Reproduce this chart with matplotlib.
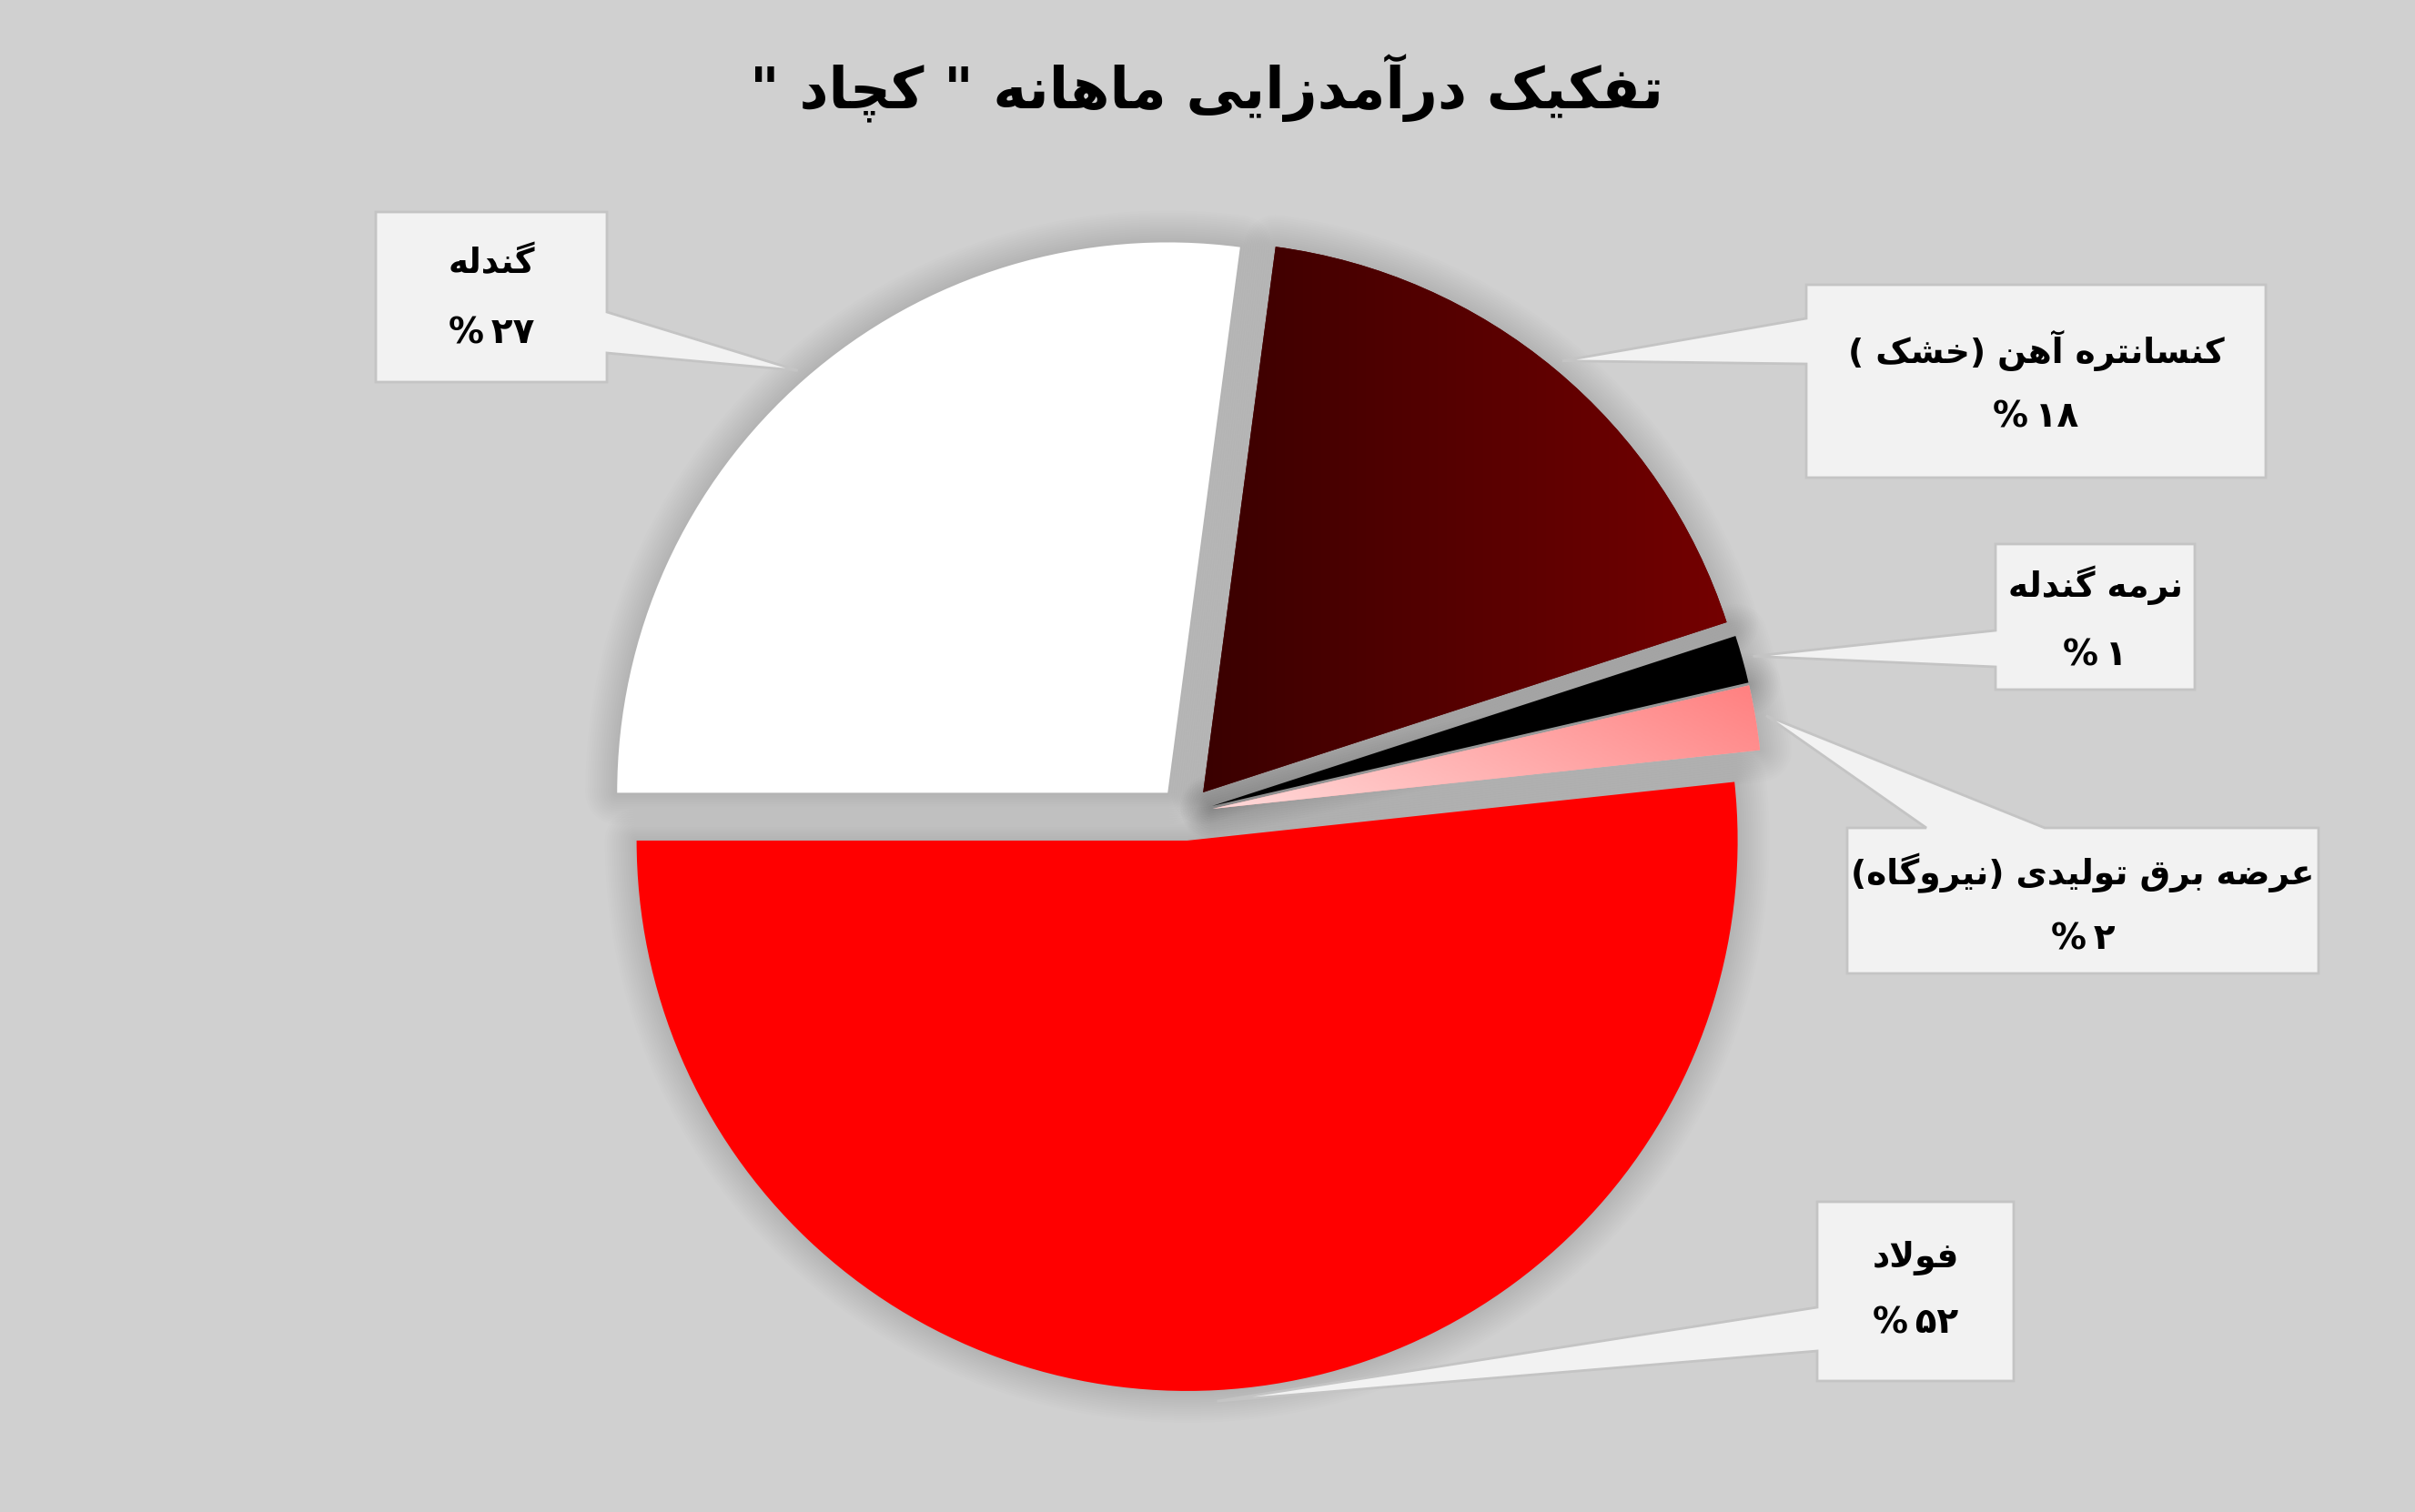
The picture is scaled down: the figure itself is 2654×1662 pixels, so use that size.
import numpy as np
import matplotlib
matplotlib.use("Agg")
import matplotlib.pyplot as plt
from matplotlib.patches import Wedge, Polygon
from matplotlib.colors import LinearSegmentedColormap

# chart data
categories = ["گندله", "کنسانتره آهن (خشک )", "نرمه گندله",
              "عرضه برق تولیدی (نیروگاه)", "فولاد"]
shares = [27.1, 17.9, 1.4, 1.9, 51.7]
pct_labels = ["%۲۷", "%۱۸", "%۱", "%۲", "%۵۲"]
colors = ["#ffffff", "#5a0000", "#000000", "#ffb0b0", "#ff0000"]
title = 'تفکیک درآمدزایی ماهانه " کچاد "'

W, H = 2654, 1662

# matplotlib does no arabic shaping / bidi, so do a small one by hand
FORMS = {
    "ا": ("\uFE8D", "\uFE8E", None, None),
    "آ": ("\uFE81", "\uFE82", None, None),
    "ب": ("\uFE8F", "\uFE90", "\uFE91", "\uFE92"),
    "پ": ("\uFB56", "\uFB57", "\uFB58", "\uFB59"),
    "ت": ("\uFE95", "\uFE96", "\uFE97", "\uFE98"),
    "ج": ("\uFE9D", "\uFE9E", "\uFE9F", "\uFEA0"),
    "چ": ("\uFB7A", "\uFB7B", "\uFB7C", "\uFB7D"),
    "خ": ("\uFEA5", "\uFEA6", "\uFEA7", "\uFEA8"),
    "د": ("\uFEA9", "\uFEAA", None, None),
    "ر": ("\uFEAD", "\uFEAE", None, None),
    "ز": ("\uFEAF", "\uFEB0", None, None),
    "س": ("\uFEB1", "\uFEB2", "\uFEB3", "\uFEB4"),
    "ش": ("\uFEB5", "\uFEB6", "\uFEB7", "\uFEB8"),
    "ض": ("\uFEBD", "\uFEBE", "\uFEBF", "\uFEC0"),
    "ع": ("\uFEC9", "\uFECA", "\uFECB", "\uFECC"),
    "ف": ("\uFED1", "\uFED2", "\uFED3", "\uFED4"),
    "ق": ("\uFED5", "\uFED6", "\uFED7", "\uFED8"),
    "ک": ("\uFB8E", "\uFB8F", "\uFB90", "\uFB91"),
    "گ": ("\uFB92", "\uFB93", "\uFB94", "\uFB95"),
    "ل": ("\uFEDD", "\uFEDE", "\uFEDF", "\uFEE0"),
    "م": ("\uFEE1", "\uFEE2", "\uFEE3", "\uFEE4"),
    "ن": ("\uFEE5", "\uFEE6", "\uFEE7", "\uFEE8"),
    "و": ("\uFEED", "\uFEEE", None, None),
    "ه": ("\uFEE9", "\uFEEA", "\uFEEB", "\uFEEC"),
    "ی": ("\uFBFC", "\uFBFD", "\uFBFE", "\uFBFF"),
}
LAM_ALEF = {"ا": ("\uFEFB", "\uFEFC"), "آ": ("\uFEF5", "\uFEF6")}


def joins_left(c):
    return c in FORMS and FORMS[c][2] is not None


def shape(text):
    out = []
    i = 0
    n = len(text)
    while i < n:
        c = text[i]
        if c not in FORMS:
            out.append(c)
            i += 1
            continue
        prev = text[i - 1] if i > 0 else ""
        nxt = text[i + 1] if i + 1 < n else ""
        jp = joins_left(prev)
        if c == "ل" and nxt in LAM_ALEF:
            out.append(LAM_ALEF[nxt][1] if jp else LAM_ALEF[nxt][0])
            i += 2
            continue
        jn = joins_left(c) and nxt in FORMS
        iso, fin, ini, med = FORMS[c]
        if jp and jn:
            out.append(med)
        elif jp:
            out.append(fin)
        elif jn:
            out.append(ini)
        else:
            out.append(iso)
        i += 1
    vis = "".join(reversed(out))
    return vis.translate(str.maketrans("()", ")("))


plt.rcParams['font.family'] = ['DejaVu Sans']

fig = plt.figure(figsize=(W / 100, H / 100), dpi=100, facecolor="#d0d0d0")
ax = fig.add_axes([0, 0, 1, 1])
ax.set_facecolor("#d0d0d0")

radius = 605
center = (1303, H - 894)
wedges, _ = ax.pie(shares, colors=colors, startangle=180, counterclock=False,
                   explode=[30] * len(shares), radius=radius, center=center,
                   wedgeprops=dict(linewidth=0), frame=True)

# soft glow under the slices
for w in wedges:
    for k in range(1, 15):
        ax.add_patch(Wedge(w.center, w.r, w.theta1, w.theta2, facecolor="none",
                           edgecolor="black", lw=3.6 * k, alpha=0.0095,
                           joinstyle="round", zorder=0.5))

# gradients on two slices
w = wedges[1]
bb = w.get_path().get_extents()
grad = np.linspace(0, 1, 256).reshape(1, -1)
cm1 = LinearSegmentedColormap.from_list("dr", ["#3a0000", "#740000"])
im = ax.imshow(grad, extent=[bb.x0, bb.x1, bb.y0, bb.y1], cmap=cm1,
               aspect="auto", origin="lower", zorder=1.5)
im.set_clip_path(w)

w = wedges[3]
bb = w.get_path().get_extents()
gx, gy = np.meshgrid(np.linspace(0, 1, 256), np.linspace(0, 1, 64))
cm2 = LinearSegmentedColormap.from_list("pk", ["#ffdada", "#ff8080"])
im = ax.imshow(0.7 * gx + 0.3 * gy, extent=[bb.x0, bb.x1, bb.y0, bb.y1],
               cmap=cm2, aspect="auto", origin="lower", zorder=1.5)
im.set_clip_path(w)

# callout boxes: (left, top, right, bottom) in pixels from top-left
boxes = [(413, 233, 667, 420), (1985, 313, 2490, 525), (2193, 598, 2412, 758),
         (2030, 910, 2548, 1070), (1997, 1321, 2213, 1518)]
pointers = [("right", 343, 388), ("left", 350, 400), ("left", 693, 733),
            ("top", 2117, 2247), ("left", 1437, 1485)]
line_y = [(290, 367), (385, 458), (643, 720), (960, 1033), (1383, 1455)]

for w, (l, t, r, b), (side, p1, p2), (y1, y2), name, pct in zip(
        wedges, boxes, pointers, line_y, categories, pct_labels):
    th = np.deg2rad((w.theta1 + w.theta2) / 2)
    tip = (w.center[0] + 1.02 * w.r * np.cos(th), w.center[1] + 1.02 * w.r * np.sin(th))
    T, B = H - t, H - b
    if side == "left":
        pts = [(l, T), (r, T), (r, B), (l, B), (l, H - p2), tip, (l, H - p1)]
    elif side == "right":
        pts = [(l, T), (r, T), (r, H - p1), tip, (r, H - p2), (r, B), (l, B)]
    else:
        pts = [(l, T), (p1, T), tip, (p2, T), (r, T), (r, B), (l, B)]
    ax.add_patch(Polygon(pts, closed=True, facecolor="#f2f2f2", edgecolor="#c4c4c4",
                         lw=2, zorder=3))
    cx = (l + r) / 2
    ax.text(cx, H - y1, shape(name), ha="center", va="center", fontsize=27,
            fontweight="bold", zorder=4)
    ax.text(cx, H - y2, pct.replace("%", "%\u2009"), ha="center", va="center",
            fontsize=28, fontweight="bold", zorder=4)

ax.text(1326, H - 118, shape(title), ha="center", va="baseline", fontsize=45,
        fontweight="bold")

ax.set_xlim(0, W)
ax.set_ylim(0, H)
ax.set_aspect("auto")
ax.axis("off")

fig.savefig("out.png", dpi=100, facecolor=fig.get_facecolor())
